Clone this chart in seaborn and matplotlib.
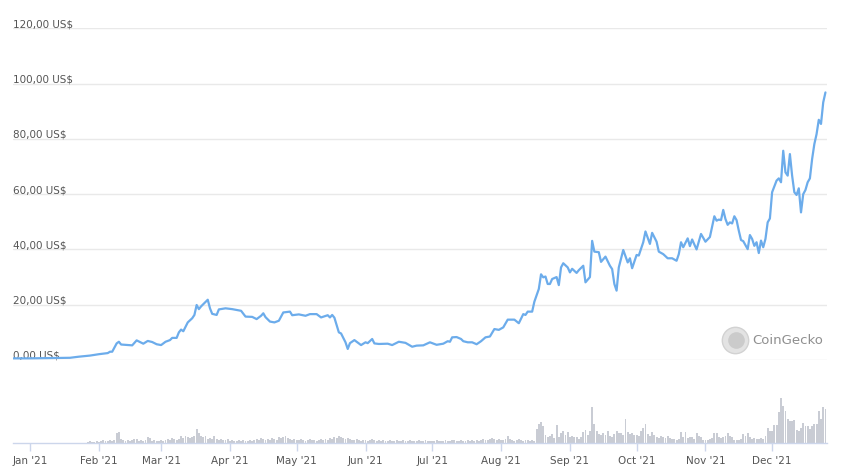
import pandas as pd
import matplotlib
matplotlib.use("Agg")
import matplotlib.pyplot as plt
import matplotlib.transforms as mtransforms
import seaborn as sns

# price readings: day offset from 2021-01-01 and price in US$
price_day = [
    -8, 0, 9, 18, 22, 27, 31, 35, 36, 37,
    39, 40, 41, 46, 48, 51, 53, 55, 57, 59,
    61, 63, 64, 66, 67, 68, 69, 71, 73, 74,
    75, 76, 77, 80, 81, 82, 84, 85, 88, 91,
    95, 97, 100, 102, 104, 105, 106, 108, 110, 112,
    114, 117, 118, 121, 124, 126, 129, 131, 134, 135,
    136, 137, 139, 140, 142, 143, 144, 146, 149, 151,
    152, 154, 155, 157, 161, 163, 166, 169, 172, 174,
    177, 180, 183, 186, 188, 189, 190, 192, 194, 195,
    197, 199, 201, 203, 205, 207, 209, 211, 213, 215,
    218, 220, 222, 223, 224, 226, 227, 229, 230, 231,
    232, 233, 234, 235, 237, 238, 239, 240, 242, 243,
    244, 246, 247, 249, 250, 252, 253, 254, 256, 257,
    259, 261, 262, 263, 264, 265, 267, 269, 270, 271,
    273, 274, 276, 277, 279, 280, 282, 283, 285, 287,
    289, 291, 292, 293, 294, 296, 297, 298, 300, 302,
    304, 306, 308, 309, 310, 311, 312, 313, 314, 315,
    316, 317, 318, 319, 320, 321, 323, 324, 325, 326,
    327, 328, 329, 330, 331, 332, 333, 334, 336, 337,
    338, 339, 340, 341, 342, 343, 344, 345, 346, 347,
    348, 349, 350, 351, 352, 353, 354, 355, 356, 357,
    358,
]
price = [
    0.6, 0.6, 0.7, 0.8, 1.2, 1.6, 2.1, 2.5, 3.0, 3.0,
    6.0, 6.6, 5.6, 5.3, 7.1, 5.9, 6.9, 6.5, 5.7, 5.4,
    6.6, 7.2, 8.0, 8.0, 10.0, 11.0, 10.4, 13.6, 15.1, 16.3,
    19.9, 18.4, 19.4, 21.8, 18.7, 16.7, 16.3, 18.3, 18.7, 18.4,
    17.8, 15.7, 15.6, 14.8, 16.0, 16.9, 15.5, 13.9, 13.6, 14.2,
    17.2, 17.5, 16.2, 16.5, 16.0, 16.6, 16.6, 15.4, 16.2, 15.4,
    16.3, 15.3, 10.0, 9.6, 6.4, 4.0, 6.1, 7.2, 5.4, 6.4,
    6.1, 7.6, 6.0, 5.8, 5.9, 5.4, 6.6, 6.2, 4.8, 5.2,
    5.3, 6.4, 5.5, 5.9, 6.8, 6.6, 8.2, 8.3, 7.6, 6.8,
    6.4, 6.4, 5.7, 6.8, 8.2, 8.5, 11.2, 10.9, 11.8, 14.6,
    14.6, 13.3, 16.6, 16.3, 17.5, 17.5, 21.1, 25.7, 31.0, 29.9,
    30.2, 27.5, 27.5, 29.3, 30.0, 27.1, 33.5, 35.0, 33.5, 31.7,
    33.0, 31.5, 32.5, 34.1, 28.1, 30.0, 43.1, 39.2, 39.0, 35.5,
    37.4, 34.1, 32.9, 27.5, 25.1, 33.5, 39.8, 35.3, 36.8, 33.2,
    38.0, 37.8, 42.6, 46.5, 42.0, 46.0, 42.8, 39.2, 38.3, 36.8,
    36.8, 35.9, 38.3, 42.6, 40.8, 44.0, 41.2, 43.6, 40.0, 45.6,
    42.8, 44.5, 52.0, 50.4, 50.8, 50.6, 54.3, 51.0, 48.9, 49.8,
    49.4, 52.0, 50.6, 46.8, 43.4, 43.0, 40.1, 45.2, 43.8, 41.3,
    42.6, 38.7, 43.2, 40.8, 43.8, 49.8, 51.2, 60.7, 64.9, 65.7,
    64.3, 75.7, 67.9, 66.7, 74.5, 66.7, 60.7, 59.7, 62.1, 53.4,
    60.0, 61.5, 64.3, 65.7, 72.7, 78.1, 81.7, 86.9, 85.4, 93.2,
    96.8,
]

# daily volume (relative units), one value per day from 2020-12-24 to 2021-12-25
volume = [
    0, 0, 0, 0, 0, 0, 0, 0, 0, 0, 0, 0, 0, 0, 0, 0, 0,
    0, 0, 0, 0, 0, 0, 0, 0, 0, 0, 0, 0, 0, 0, 0, 0, 0,
    1, 2, 1, 1, 2, 1,
    2, 3, 2, 2, 3, 2, 3,
    10, 11, 4,
    3, 2, 3, 2, 3,
    4, 4,
    2, 3, 2, 3,
    6, 5,
    2, 3, 2, 2,
    3, 2, 3,
    4, 3, 5, 4, 3, 4,
    7, 5, 7,
    6, 5, 6,
    7, 14, 10,
    7, 6, 7,
    4, 5, 4, 7,
    4, 3, 4, 3, 3, 4,
    2, 3, 2, 2, 3, 2, 3, 2, 2, 3, 2,
    3, 4, 3, 5, 4, 3, 4, 3, 5, 4, 3,
    6, 5, 6, 7, 5,
    4, 3, 4, 3,
    3, 4, 3, 2, 3, 4, 3, 3, 2, 3, 4, 3, 4, 3,
    5, 4, 6, 5, 7, 6, 5, 4, 5, 4, 3,
    3, 4, 3, 2, 3, 3, 2, 3, 4, 3, 2, 3, 2, 3, 2,
    2, 3, 2, 2, 3, 2, 2, 3, 2, 2, 3, 2, 2, 2, 3, 2, 2, 3, 2, 2, 2,
    2, 3, 2, 2, 2, 3, 2, 2, 3, 3, 2, 2, 3, 2, 2, 3, 2, 3, 2,
    3, 2, 3, 4, 3, 3, 4, 5, 4, 3, 4, 3,
    3, 4, 7, 4, 3, 2, 3, 4, 3, 2,
    3, 3, 2, 3, 2, 14, 19, 21, 17, 8,
    6, 7, 9, 5, 18, 6, 10, 12, 8, 11,
    6, 7, 6, 6, 4, 6, 11, 13, 8, 12,
    36, 19, 12, 9, 8, 10, 8, 12, 7, 6,
    9, 12, 10, 10, 8, 24, 11, 9, 10, 8,
    8, 7, 12, 15, 19, 9, 7, 11, 8, 6,
    5, 7, 6, 5, 7, 5, 4, 4, 3, 4,
    11, 6, 11, 5, 6, 6, 4, 10, 7, 6,
    3, 3, 3, 4, 5, 10, 10, 6, 5, 6,
    7, 10, 7, 6, 3, 3, 3, 4, 9, 7,
    10, 6, 4, 5, 4, 4, 5, 4, 7, 15,
    12, 12, 18, 18, 31, 45, 37, 32, 24, 22,
    22, 23, 13, 12, 15, 20, 17, 17, 14, 17,
    19, 19, 32, 24, 36, 34,
]

y_ticks = [0, 20, 40, 60, 80, 100, 120]
month_starts = pd.date_range("2021-01-01", "2021-12-01", freq="MS")
month_labels = ["Jan '21", "Feb '21", "Mar '21", "Apr '21", "May '21", "Jun '21",
                "Jul '21", "Aug '21", "Sep '21", "Oct '21", "Nov '21", "Dec '21"]

base = pd.Timestamp("2021-01-01")
df = pd.DataFrame({"date": base + pd.to_timedelta(price_day, unit="D"), "price": price})
vol_dates = pd.date_range("2020-12-24", periods=len(volume), freq="D")

sns.set_theme(style="white")
plt.rcParams["font.family"] = ["DejaVu Sans"]

W, H = 850, 477
fig = plt.figure(figsize=(W / 100, H / 100), dpi=100)
left, right = 13, 827
ax = fig.add_axes([left / W, (H - 361) / H, (right - left) / W, (361 - 29.3) / H])
axv = fig.add_axes([left / W, (H - 444) / H, (right - left) / W, 64 / H], sharex=ax)

line_color = "#6caceb"
text_color = "#555555"

sns.lineplot(data=df, x="date", y="price", ax=ax, color=line_color, linewidth=1.6, zorder=3)
ax.set_ylim(0, 120)
ax.set_yticks(y_ticks)
ax.grid(axis="y", color="#e9e9e9", linewidth=1)
ax.grid(axis="x", visible=False)
ax.tick_params(left=False, bottom=False, labelleft=False, labelbottom=False)
ax.set_xlabel("")
ax.set_ylabel("")
for s in ax.spines.values():
    s.set_visible(False)

trans = mtransforms.blended_transform_factory(ax.transAxes, ax.transData)
for v in y_ticks:
    ax.annotate(f"{v:.2f}".replace(".", ",") + " US$", xy=(0, v), xycoords=trans,
                xytext=(0, 1.5), textcoords="offset points", ha="left", va="baseline",
                fontsize=7.5, color=text_color, zorder=1, annotation_clip=False)

axv.bar(vol_dates, volume, width=0.85, color="#c9ccd4", linewidth=0)
axv.set_ylim(0, 64)
axv.set_yticks([])
for k, s in axv.spines.items():
    s.set_visible(k == "bottom")
axv.spines["bottom"].set_color("#ccd6eb")
axv.spines["bottom"].set_linewidth(1)
axv.set_xticks(month_starts)
axv.set_xticklabels(month_labels)
axv.tick_params(axis="x", length=6, width=1, color="#ccd6eb", labelsize=7.5,
                labelcolor=text_color, pad=3, bottom=True)

start = base + pd.Timedelta(days=-7.65)
end = base + pd.Timedelta(days=358.7)
ax.set_xlim(start, end)

# CoinGecko watermark
cx, cy = 735 / W, (H - 341) / H
fig.add_artist(plt.Line2D([cx], [cy], marker="o", markersize=19, markerfacecolor="#e3e3e3",
                          markeredgecolor="#d2d2d2", markeredgewidth=1, transform=fig.transFigure))
fig.add_artist(plt.Line2D([cx + 0.001], [cy], marker="o", markersize=12, markerfacecolor="#cbcbcb",
                          markeredgewidth=0, transform=fig.transFigure))
fig.text(752 / W, cy, "CoinGecko", fontsize=9.5, color="#8f8f8f", ha="left", va="center")

fig.savefig("out.png", dpi=100, facecolor="white")
